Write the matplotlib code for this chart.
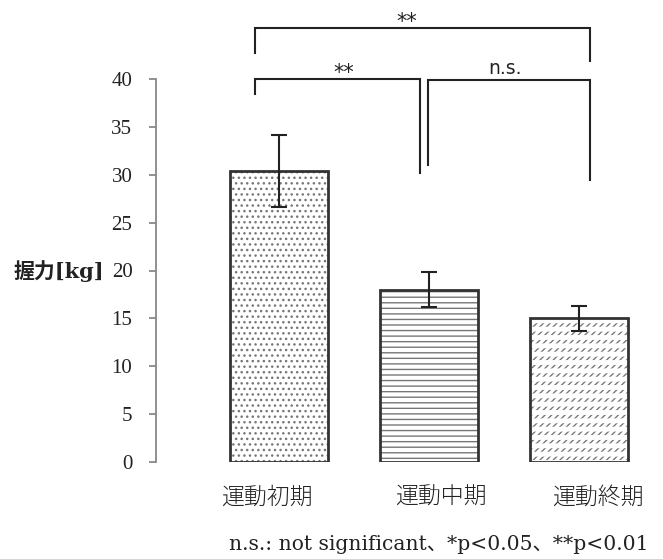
import matplotlib
matplotlib.use("Agg")
import matplotlib.pyplot as plt
from matplotlib.transforms import ScaledTranslation

categories = ["運動初期", "運動中期", "運動終期"]
means = [30.4, 18.0, 15.0]
errors = [3.8, 1.8, 1.3]
hatches = ["...", "---", "/////"]
yticks = [0, 5, 10, 15, 20, 25, 30, 35, 40]

W, H = 663, 559
fig = plt.figure(figsize=(W / 100, H / 100), dpi=100)
left_px, right_px, bot_px, top_px = 156, 663, 462, 79
ax = fig.add_axes([left_px / W, 1 - bot_px / H, (right_px - left_px) / W, (bot_px - top_px) / H])

x = list(range(len(categories)))
for xi, m, h in zip(x, means, hatches):
    ax.bar(xi, m, width=0.65, facecolor="white", edgecolor="#777777", hatch=h, linewidth=0)
    if h.startswith("/"):
        with plt.rc_context({"hatch.linewidth": 3.5}):
            ax.bar(xi, m, width=0.65, facecolor="none", edgecolor="white", hatch="--", linewidth=0)
    ax.bar(xi, m, width=0.65, facecolor="none", edgecolor="#333333", linewidth=2)
ax.errorbar(x, means, yerr=errors, fmt="none", ecolor="#222222", elinewidth=1.5, capsize=6, capthick=1.5)

ax.set_xlim(-0.82, 2.56)
ax.set_ylim(0, 40)
ax.set_yticks(yticks)
ax.set_yticklabels([str(t) for t in yticks], fontfamily="Liberation Serif", fontsize=15, color="#222222")
ax.set_xticks(x)
ax.set_xticklabels(categories, fontfamily="Noto Sans CJK JP", fontsize=16.5, color="#222222", fontweight=300)
ax.tick_params(axis="x", length=0, pad=16)
ax.tick_params(axis="y", length=5, width=1.3, color="#888888", direction="out", pad=12)
offsets_px = [-12, 12, 19]
for lab, off in zip(ax.get_xticklabels(), offsets_px):
    lab.set_transform(lab.get_transform() + ScaledTranslation(off / 100, 0, fig.dpi_scale_trans))
for s in ["top", "right", "bottom"]:
    ax.spines[s].set_visible(False)
ax.spines["left"].set_color("#888888")
ax.spines["left"].set_linewidth(1.3)

fig.text(14 / W, 1 - 271 / H, "握力[kg]", fontfamily=["DejaVu Serif", "Noto Sans CJK JP"], fontsize=15,
         va="center", ha="left", fontweight="bold", color="#222222")

lc = "#222222"
def bracket(x1, x2, ytop, y1, y2, label, fs, pad, lx):
    ax.plot([x1, x1, x2, x2], [y1, ytop, ytop, y2], color=lc, lw=1.5, clip_on=False, solid_joinstyle="miter")
    ax.text(lx, ytop + pad, label, ha="center", va="bottom", fontsize=fs, fontfamily="DejaVu Sans",
            color="#222222", clip_on=False)

bracket(-0.16, 2.07, 45.3, 42.7, 41.9, "**", 15, -0.4, 0.85)
bracket(-0.16, 0.94, 40.0, 38.4, 30.2, "**", 15, -0.4, 0.43)
bracket(0.99, 2.07, 39.9, 31.0, 29.5, "n.s.", 13.5, 0.2, 1.51)

fig.text(439 / W, 1 - 545 / H, "n.s.: not significant、*p<0.05、**p<0.01",
         fontfamily=["DejaVu Serif", "Noto Sans CJK JP"], fontsize=14.6, ha="center", va="center", color="#222222")

fig.savefig("out.png", dpi=100)
